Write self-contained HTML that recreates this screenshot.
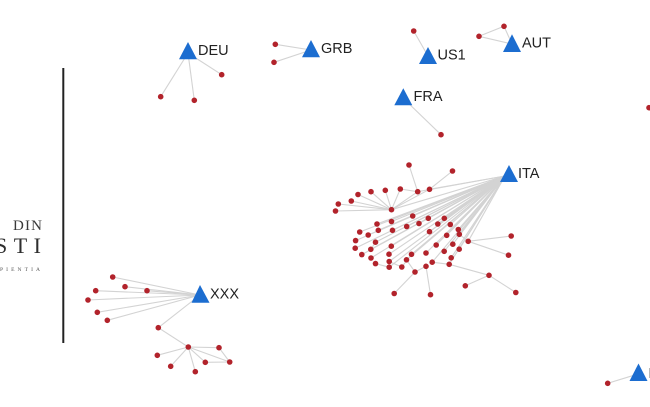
<!DOCTYPE html>
<html><head><meta charset="utf-8"><style>
html,body{margin:0;padding:0;background:#fff;width:650px;height:407px;overflow:hidden}
svg{display:block}
.e{stroke:#d3d3d3;stroke-width:1.1;fill:none}
.n{fill:#b2232b}
.t{fill:#1c6dd0}
.l{font-family:"Liberation Sans",sans-serif;font-size:14.5px;fill:#222}
</style></head><body>
<svg width="650" height="407" viewBox="0 0 650 407" xmlns="http://www.w3.org/2000/svg">
<rect width="650" height="407" fill="#fff"/>
<!-- left logo text -->
<text x="13" y="230" font-family="'Liberation Serif',serif" font-size="15" fill="#3a3a3a" textLength="29" lengthAdjust="spacing">DIN</text>
<text x="-5" y="253" font-family="'Liberation Serif',serif" font-size="22" fill="#2e2e2e" textLength="46" lengthAdjust="spacing">STI</text>
<text x="0" y="271" font-family="'Liberation Serif',serif" font-size="5.5" fill="#555" textLength="40" lengthAdjust="spacing">PIENTIA</text>
<line x1="63.3" y1="68" x2="63.3" y2="343" stroke="#222" stroke-width="2"/>

<g class="e">
<!-- DEU -->
<line x1="188" y1="53" x2="221.7" y2="74.7"/><line x1="188" y1="53" x2="160.7" y2="96.7"/><line x1="188" y1="53" x2="194.3" y2="100.3"/>
<!-- GRB -->
<line x1="311" y1="50" x2="275.3" y2="44.3"/><line x1="311" y1="50" x2="274" y2="62.3"/>
<!-- US1 -->
<line x1="428" y1="56" x2="413.7" y2="31"/>
<!-- AUT -->
<line x1="512" y1="44" x2="504" y2="26.3"/><line x1="512" y1="44" x2="479" y2="36.3"/><line x1="479" y1="36.3" x2="504" y2="26.3"/>
<!-- FRA -->
<line x1="403" y1="98" x2="441" y2="134.7"/>
<!-- bottom right -->
<line x1="638" y1="374" x2="607.7" y2="383.3"/>
<!-- XXX -->
<line x1="200" y1="295" x2="112.7" y2="277"/><line x1="200" y1="295" x2="125" y2="286.7"/><line x1="200" y1="295" x2="147" y2="290.7"/><line x1="200" y1="295" x2="95.7" y2="290.7"/><line x1="200" y1="295" x2="88" y2="300"/><line x1="200" y1="295" x2="97.3" y2="312.3"/><line x1="200" y1="295" x2="107.3" y2="320.3"/><line x1="200" y1="295" x2="158.3" y2="327.7"/>
<line x1="158.3" y1="327.7" x2="188.3" y2="347"/>
<line x1="188.3" y1="347" x2="219" y2="347.7"/><line x1="188.3" y1="347" x2="157.3" y2="355.3"/><line x1="188.3" y1="347" x2="205.3" y2="362.3"/><line x1="188.3" y1="347" x2="229.7" y2="362"/><line x1="188.3" y1="347" x2="170.7" y2="366.3"/><line x1="188.3" y1="347" x2="195.3" y2="371.7"/><line x1="219" y1="347.7" x2="229.7" y2="362"/><line x1="205.3" y1="362.3" x2="229.7" y2="362"/>
<!-- ITA top group -->
<line x1="391.5" y1="209.7" x2="338.3" y2="204"/><line x1="391.5" y1="209.7" x2="335.5" y2="211"/><line x1="391.5" y1="209.7" x2="351.3" y2="201"/><line x1="391.5" y1="209.7" x2="358" y2="194.5"/><line x1="391.5" y1="209.7" x2="371" y2="191.7"/><line x1="391.5" y1="209.7" x2="385.3" y2="190.3"/><line x1="391.5" y1="209.7" x2="400.3" y2="189"/><line x1="391.5" y1="209.7" x2="417.7" y2="191.7"/><line x1="391.5" y1="209.7" x2="429.5" y2="189.3"/>
<line x1="409" y1="165" x2="417.7" y2="191.7"/><line x1="452.5" y1="171" x2="429.5" y2="189.3"/><line x1="400.3" y1="189" x2="417.7" y2="191.7"/>
<!-- ITA fan -->
<g>
<line x1="505" y1="176" x2="391.5" y2="209.7"/><line x1="505" y1="176" x2="429.5" y2="189.3"/><line x1="505" y1="176" x2="417.7" y2="191.7"/>
<line x1="505" y1="176" x2="412.7" y2="216"/><line x1="505" y1="176" x2="391.5" y2="221.5"/><line x1="505" y1="176" x2="377" y2="224"/><line x1="505" y1="176" x2="419" y2="223.5"/><line x1="505" y1="176" x2="428.3" y2="218.3"/><line x1="505" y1="176" x2="444.3" y2="218.3"/><line x1="505" y1="176" x2="406.7" y2="226.5"/><line x1="505" y1="176" x2="437.8" y2="224"/><line x1="505" y1="176" x2="450.3" y2="224.5"/><line x1="505" y1="176" x2="359.7" y2="232"/><line x1="505" y1="176" x2="378.3" y2="230.3"/><line x1="505" y1="176" x2="392.5" y2="230.3"/><line x1="505" y1="176" x2="429.5" y2="231.7"/><line x1="505" y1="176" x2="368.2" y2="235"/><line x1="505" y1="176" x2="458.3" y2="229.5"/><line x1="505" y1="176" x2="446.7" y2="235.3"/><line x1="505" y1="176" x2="459.3" y2="234.3"/><line x1="505" y1="176" x2="355.6" y2="240.6"/><line x1="505" y1="176" x2="375.5" y2="242.2"/><line x1="505" y1="176" x2="355.2" y2="248.2"/><line x1="505" y1="176" x2="370.8" y2="249.3"/><line x1="505" y1="176" x2="391.3" y2="246.2"/><line x1="505" y1="176" x2="436.2" y2="245"/><line x1="505" y1="176" x2="452.8" y2="244.2"/><line x1="505" y1="176" x2="468.2" y2="241.3"/><line x1="505" y1="176" x2="361.8" y2="254.6"/><line x1="505" y1="176" x2="389" y2="254.2"/><line x1="505" y1="176" x2="411.5" y2="254.3"/><line x1="505" y1="176" x2="426" y2="253"/><line x1="505" y1="176" x2="444.2" y2="251.3"/><line x1="505" y1="176" x2="459.2" y2="249.2"/><line x1="505" y1="176" x2="371" y2="258"/><line x1="505" y1="176" x2="406.5" y2="259.8"/><line x1="505" y1="176" x2="389.2" y2="261.5"/><line x1="505" y1="176" x2="389.2" y2="267.2"/><line x1="505" y1="176" x2="451.2" y2="257.8"/><line x1="505" y1="176" x2="449.2" y2="264.3"/><line x1="505" y1="176" x2="432.2" y2="262.2"/>
</g>
<!-- ITA local edges -->
<line x1="468.2" y1="241.3" x2="511.2" y2="236"/><line x1="468.2" y1="241.3" x2="508.5" y2="255.2"/><line x1="468.2" y1="241.3" x2="459.3" y2="234.3"/>
<line x1="449.2" y1="264.3" x2="489" y2="275.3"/><line x1="489" y1="275.3" x2="465.3" y2="285.8"/><line x1="489" y1="275.3" x2="515.8" y2="292.5"/>
<line x1="415" y1="272" x2="394.2" y2="293.5"/><line x1="415" y1="272" x2="406.5" y2="259.8"/><line x1="426" y1="266.3" x2="430.5" y2="294.7"/><line x1="426" y1="266.3" x2="415" y2="272"/>
<line x1="375.5" y1="263.6" x2="389.2" y2="267.2"/><line x1="401.8" y1="267" x2="389.2" y2="261.5"/><line x1="401.8" y1="267" x2="411.5" y2="254.3"/><line x1="375.5" y1="242.2" x2="370.8" y2="249.3"/><line x1="432.2" y1="262.2" x2="449.2" y2="264.3"/>
</g>

<g class="n">
<circle cx="221.7" cy="74.7" r="2.8"/><circle cx="160.7" cy="96.7" r="2.8"/><circle cx="194.3" cy="100.3" r="2.8"/>
<circle cx="275.3" cy="44.3" r="2.8"/><circle cx="274" cy="62.3" r="2.8"/>
<circle cx="413.7" cy="31" r="2.8"/>
<circle cx="504" cy="26.3" r="2.8"/><circle cx="479" cy="36.3" r="2.8"/>
<circle cx="441" cy="134.7" r="2.8"/>
<circle cx="649" cy="107.7" r="2.8"/>
<circle cx="607.7" cy="383.3" r="2.8"/>
<circle cx="112.7" cy="277" r="2.8"/><circle cx="125" cy="286.7" r="2.8"/><circle cx="147" cy="290.7" r="2.8"/><circle cx="95.7" cy="290.7" r="2.8"/><circle cx="88" cy="300" r="2.8"/><circle cx="97.3" cy="312.3" r="2.8"/><circle cx="107.3" cy="320.3" r="2.8"/><circle cx="158.3" cy="327.7" r="2.8"/><circle cx="188.3" cy="347" r="2.8"/><circle cx="219" cy="347.7" r="2.8"/><circle cx="157.3" cy="355.3" r="2.8"/><circle cx="205.3" cy="362.3" r="2.8"/><circle cx="229.7" cy="362" r="2.8"/><circle cx="170.7" cy="366.3" r="2.8"/><circle cx="195.3" cy="371.7" r="2.8"/>
<circle cx="409" cy="165" r="2.8"/><circle cx="452.5" cy="171" r="2.8"/><circle cx="338.3" cy="204" r="2.8"/><circle cx="335.5" cy="211" r="2.8"/><circle cx="351.3" cy="201" r="2.8"/><circle cx="358" cy="194.5" r="2.8"/><circle cx="371" cy="191.7" r="2.8"/><circle cx="385.3" cy="190.3" r="2.8"/><circle cx="400.3" cy="189" r="2.8"/><circle cx="417.7" cy="191.7" r="2.8"/><circle cx="429.5" cy="189.3" r="2.8"/><circle cx="391.5" cy="209.7" r="2.8"/>
<circle cx="412.7" cy="216" r="2.8"/><circle cx="391.5" cy="221.5" r="2.8"/><circle cx="377" cy="224" r="2.8"/><circle cx="419" cy="223.5" r="2.8"/><circle cx="428.3" cy="218.3" r="2.8"/><circle cx="444.3" cy="218.3" r="2.8"/><circle cx="406.7" cy="226.5" r="2.8"/><circle cx="437.8" cy="224" r="2.8"/><circle cx="450.3" cy="224.5" r="2.8"/><circle cx="359.7" cy="232" r="2.8"/><circle cx="378.3" cy="230.3" r="2.8"/><circle cx="392.5" cy="230.3" r="2.8"/><circle cx="429.5" cy="231.7" r="2.8"/><circle cx="368.2" cy="235" r="2.8"/><circle cx="458.3" cy="229.5" r="2.8"/><circle cx="446.7" cy="235.3" r="2.8"/><circle cx="459.3" cy="234.3" r="2.8"/><circle cx="355.6" cy="240.6" r="2.8"/><circle cx="375.5" cy="242.2" r="2.8"/><circle cx="355.2" cy="248.2" r="2.8"/><circle cx="370.8" cy="249.3" r="2.8"/><circle cx="391.3" cy="246.2" r="2.8"/><circle cx="436.2" cy="245" r="2.8"/><circle cx="452.8" cy="244.2" r="2.8"/><circle cx="468.2" cy="241.3" r="2.8"/><circle cx="511.2" cy="236" r="2.8"/><circle cx="361.8" cy="254.6" r="2.8"/><circle cx="389" cy="254.2" r="2.8"/><circle cx="411.5" cy="254.3" r="2.8"/><circle cx="426" cy="253" r="2.8"/><circle cx="444.2" cy="251.3" r="2.8"/><circle cx="459.2" cy="249.2" r="2.8"/><circle cx="371" cy="258" r="2.8"/><circle cx="406.5" cy="259.8" r="2.8"/><circle cx="375.5" cy="263.6" r="2.8"/><circle cx="389.2" cy="261.5" r="2.8"/><circle cx="389.2" cy="267.2" r="2.8"/><circle cx="401.8" cy="267" r="2.8"/><circle cx="432.2" cy="262.2" r="2.8"/><circle cx="451.2" cy="257.8" r="2.8"/><circle cx="426" cy="266.3" r="2.8"/><circle cx="449.2" cy="264.3" r="2.8"/><circle cx="508.5" cy="255.2" r="2.8"/><circle cx="415" cy="272" r="2.8"/><circle cx="489" cy="275.3" r="2.8"/><circle cx="465.3" cy="285.8" r="2.8"/><circle cx="394.2" cy="293.5" r="2.8"/><circle cx="430.5" cy="294.7" r="2.8"/><circle cx="515.8" cy="292.5" r="2.8"/>
</g>

<g class="t">
<polygon points="188,42 179,59.3 197,59.3"/>
<polygon points="311,40 302,57.3 320,57.3"/>
<polygon points="428,47 419,64 437,64"/>
<polygon points="512,34.3 503,52 521,52"/>
<polygon points="403.3,88.3 394.3,105.3 412.3,105.3"/>
<polygon points="509,165 500,182 518,182"/>
<polygon points="200,285 191.5,302.7 209.5,302.7"/>
<polygon points="638.5,363.5 629.5,381 647.5,381"/>
</g>

<g class="l">
<text x="198" y="55">DEU</text>
<text x="321" y="53">GRB</text>
<text x="437.5" y="59.5">US1</text>
<text x="522" y="47.5">AUT</text>
<text x="413.5" y="101">FRA</text>
<text x="518" y="178">ITA</text>
<text x="210" y="298.5">XXX</text>
<text x="648.5" y="378">ESP</text>
</g>
</svg>
</body></html>
